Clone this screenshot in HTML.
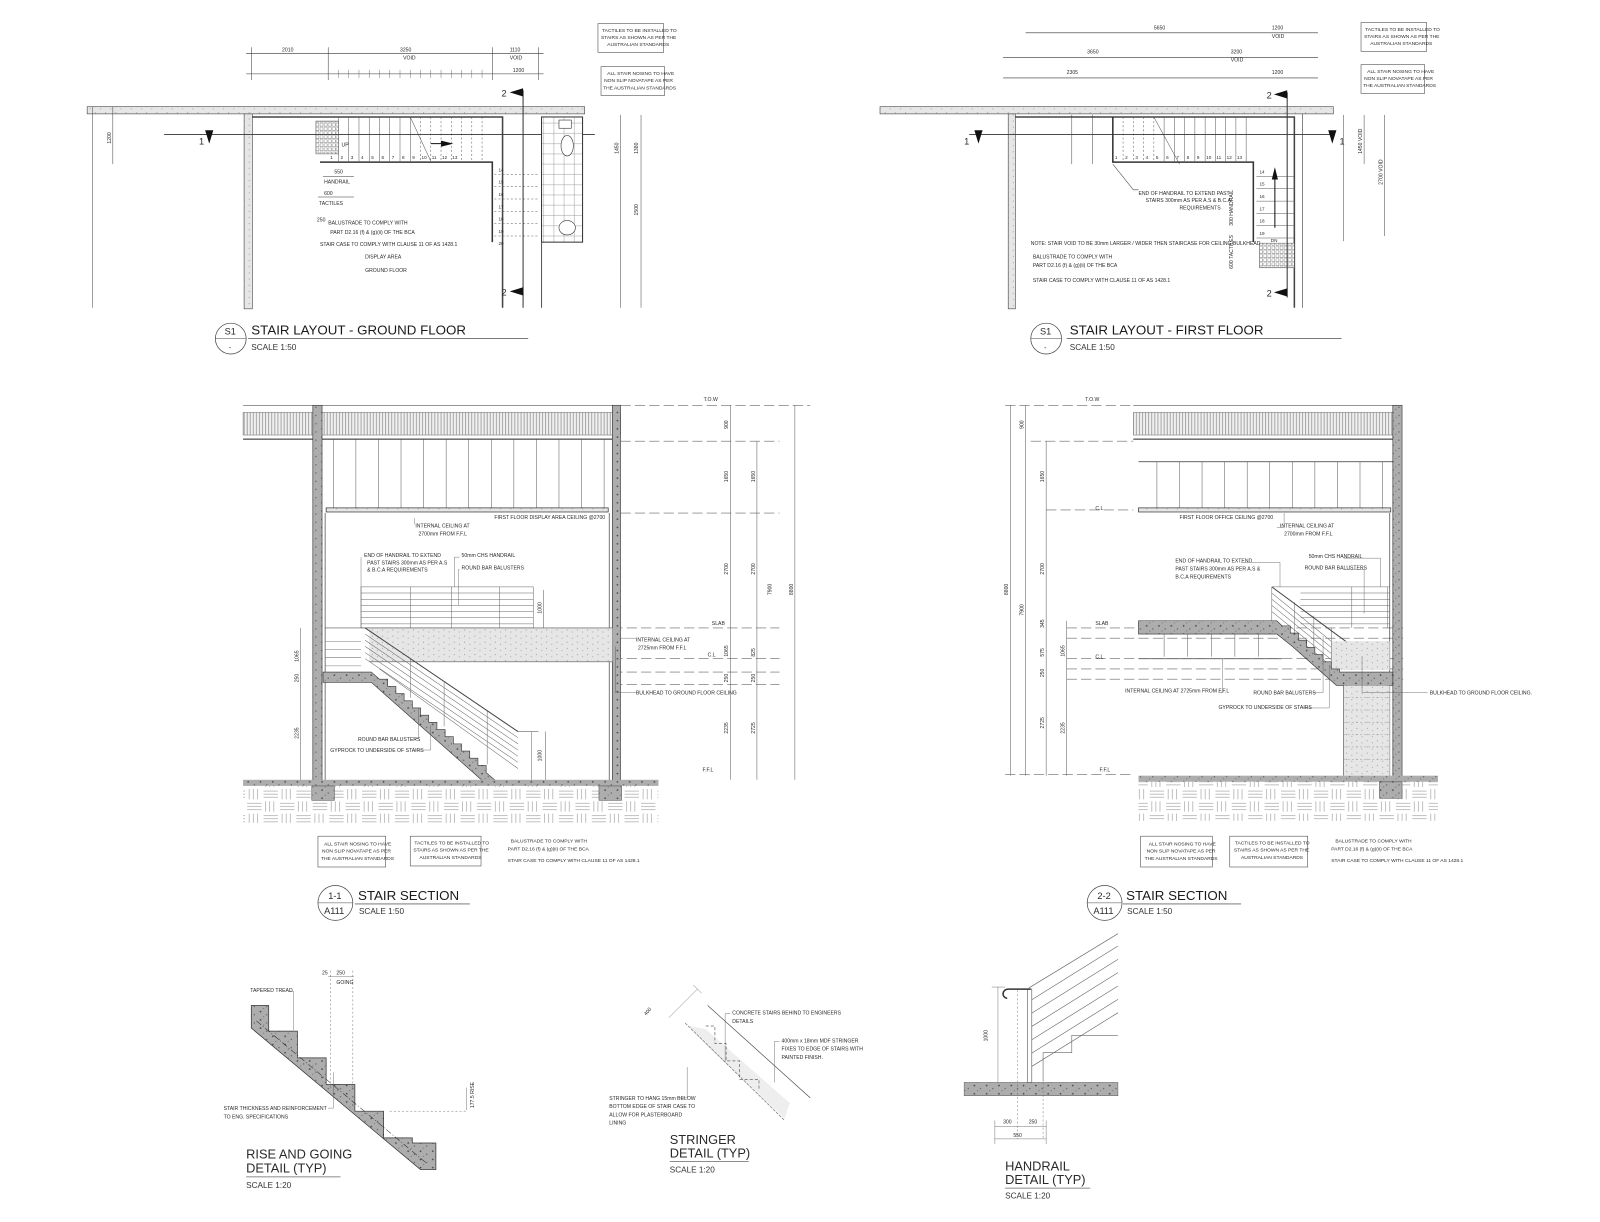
<!DOCTYPE html>
<html><head><meta charset="utf-8"><style>
html,body{margin:0;padding:0;background:#fff;}
svg{display:block;}
text{font-family:"Liberation Sans",sans-serif;fill:#2a2a2a;}
.s{font-size:5px;}
.t{font-size:13px;fill:#1a1a1a;}
.sc{font-size:8px;fill:#333;}
</style></head><body>
<svg width="1600" height="1222" viewBox="0 0 1560 1191" preserveAspectRatio="none" xmlns="http://www.w3.org/2000/svg">
<defs>
<pattern id="conc" width="12" height="8" patternUnits="userSpaceOnUse">
<rect width="12" height="8" fill="#adadad"/><circle cx="2" cy="2" r="0.8" fill="#444"/><circle cx="8" cy="5" r="0.6" fill="#555"/><circle cx="5" cy="7" r="0.5" fill="#666"/>
</pattern>
<pattern id="light" width="10" height="6" patternUnits="userSpaceOnUse">
<rect width="10" height="6" fill="#e6e6e6"/><circle cx="3" cy="2" r="0.5" fill="#888"/><circle cx="8" cy="4" r="0.5" fill="#999"/>
</pattern>
<pattern id="vh" width="3" height="10" patternUnits="userSpaceOnUse">
<rect width="3" height="10" fill="#f0f0f0"/><line x1="1" y1="0" x2="1" y2="10" stroke="#888" stroke-width="0.7"/>
</pattern>
<pattern id="ground" width="32" height="24" patternUnits="userSpaceOnUse">
<rect width="32" height="24" fill="#fff"/>
<g stroke="#999" stroke-width="0.6">
<line x1="1" y1="3" x2="15" y2="3"/><line x1="1" y1="6" x2="15" y2="6"/><line x1="1" y1="9" x2="15" y2="9"/>
<line x1="19" y1="1" x2="19" y2="11"/><line x1="23" y1="1" x2="23" y2="11"/><line x1="27" y1="1" x2="27" y2="11"/>
<line x1="3" y1="13" x2="3" y2="23"/><line x1="7" y1="13" x2="7" y2="23"/><line x1="11" y1="13" x2="11" y2="23"/>
<line x1="17" y1="15" x2="31" y2="15"/><line x1="17" y1="18" x2="31" y2="18"/><line x1="17" y1="21" x2="31" y2="21"/>
</g></pattern>
<pattern id="tact" width="4" height="4" patternUnits="userSpaceOnUse">
<rect width="4" height="4" fill="#fff"/><rect x="0" y="0" width="3" height="3" fill="none" stroke="#666" stroke-width="0.5"/>
</pattern>
<pattern id="tile" width="10" height="10" patternUnits="userSpaceOnUse">
<rect width="10" height="10" fill="#fff" stroke="#888" stroke-width="0.4"/>
</pattern>
</defs>

<!-- ================= GROUND FLOOR PLAN ================= -->
<g stroke="#333" fill="none" stroke-width="0.6">
<line x1="240" y1="52" x2="530" y2="52"/><line x1="240" y1="72" x2="530" y2="72"/>
<g stroke-width="0.5"><line x1="245" y1="46" x2="245" y2="78"/><line x1="320" y1="46" x2="320" y2="78"/><line x1="480" y1="46" x2="480" y2="78"/><line x1="525" y1="46" x2="525" y2="78"/></g>
</g>
<g class="s"><text x="275" y="50" font-size="5">2010</text><text x="390" y="50" font-size="5">3250</text><text x="393" y="58" font-size="5">VOID</text><text x="497" y="50" font-size="5">1110</text><text x="497" y="58" font-size="5">VOID</text><text x="500" y="70" font-size="5">1200</text></g>
<g stroke="#555" stroke-width="0.4"><line x1="320" y1="68" x2="320" y2="76"/>
<line x1="330" y1="68" x2="330" y2="76"/><line x1="340" y1="68" x2="340" y2="76"/><line x1="350" y1="68" x2="350" y2="76"/><line x1="360" y1="68" x2="360" y2="76"/><line x1="370" y1="68" x2="370" y2="76"/><line x1="380" y1="68" x2="380" y2="76"/><line x1="390" y1="68" x2="390" y2="76"/><line x1="400" y1="68" x2="400" y2="76"/><line x1="410" y1="68" x2="410" y2="76"/><line x1="420" y1="68" x2="420" y2="76"/><line x1="430" y1="68" x2="430" y2="76"/><line x1="440" y1="68" x2="440" y2="76"/><line x1="450" y1="68" x2="450" y2="76"/><line x1="460" y1="68" x2="460" y2="76"/><line x1="470" y1="68" x2="470" y2="76"/></g>
<rect x="85" y="104" width="485" height="7" fill="url(#light)" stroke="#444" stroke-width="0.6"/>
<rect x="238" y="111" width="8" height="190" fill="url(#light)" stroke="#444" stroke-width="0.6"/>
<path d="M246 114 H490 V300" fill="none" stroke="#444" stroke-width="1.5"/>
<g stroke="#555" stroke-width="0.5">
<line x1="330" y1="114" x2="330" y2="157"/><line x1="340" y1="114" x2="340" y2="157"/><line x1="350" y1="114" x2="350" y2="157"/><line x1="360" y1="114" x2="360" y2="157"/><line x1="370" y1="114" x2="370" y2="157"/><line x1="380" y1="114" x2="380" y2="157"/><line x1="390" y1="114" x2="390" y2="157"/><line x1="400" y1="114" x2="400" y2="157"/><line x1="410" y1="114" x2="410" y2="157" stroke-dasharray="2 2"/><line x1="420" y1="114" x2="420" y2="157" stroke-dasharray="2 2"/><line x1="430" y1="114" x2="430" y2="157" stroke-dasharray="2 2"/><line x1="440" y1="114" x2="440" y2="157" stroke-dasharray="2 2"/><line x1="450" y1="114" x2="450" y2="157" stroke-dasharray="2 2"/><line x1="460" y1="114" x2="460" y2="157" stroke-dasharray="2 2"/><line x1="470" y1="114" x2="470" y2="157" stroke-dasharray="2 2"/>
<line x1="400" y1="114" x2="420" y2="157"/>
<line x1="482" y1="170" x2="525" y2="170" stroke-dasharray="2 2"/><line x1="482" y1="182" x2="525" y2="182" stroke-dasharray="2 2"/><line x1="482" y1="194" x2="525" y2="194" stroke-dasharray="2 2"/><line x1="482" y1="206" x2="525" y2="206" stroke-dasharray="2 2"/><line x1="482" y1="218" x2="525" y2="218" stroke-dasharray="2 2"/><line x1="482" y1="230" x2="525" y2="230" stroke-dasharray="2 2"/>
</g>
<path d="M312 158 H480 V236" fill="none" stroke="#333" stroke-width="1.5"/>
<rect x="308" y="118" width="22" height="32" fill="url(#tact)" stroke="#555" stroke-width="0.5"/>
<line x1="160" y1="131" x2="580" y2="131" stroke="#333" stroke-width="0.9"/>
<polygon points="200,127 208,127 204,140" fill="#111"/><text x="194" y="141" font-size="9">1</text>
<line x1="510" y1="88" x2="510" y2="300" stroke="#333" stroke-width="1"/>
<polygon points="497,90 510,86 510,94" fill="#111"/><text x="489" y="94" font-size="9">2</text>
<polygon points="497,284 510,280 510,288" fill="#111"/><text x="489" y="288" font-size="9">2</text>
<line x1="420" y1="140" x2="440" y2="140" stroke="#111"/><polygon points="430,137 442,140 430,143" fill="#111"/>
<text x="333" y="143" class="s">UP</text>
<g font-size="4.5"><text x="322" y="155">1</text><text x="332" y="155">2</text><text x="342" y="155">3</text><text x="352" y="155">4</text><text x="362" y="155">5</text><text x="372" y="155">6</text><text x="382" y="155">7</text><text x="392" y="155">8</text><text x="402" y="155">9</text><text x="411" y="155">10</text><text x="421" y="155">11</text><text x="431" y="155">12</text><text x="441" y="155">13</text></g>
<g font-size="4.5"><text x="486" y="167">14</text><text x="486" y="179">15</text><text x="486" y="191">16</text><text x="486" y="203">17</text><text x="486" y="215">18</text><text x="486" y="227">19</text><text x="486" y="239">20</text></g>
<rect x="528" y="114" width="40" height="122" fill="url(#tile)" stroke="#333" stroke-width="1"/>
<rect x="545" y="117" width="12" height="8" fill="#fff" stroke="#333" stroke-width="0.6"/>
<ellipse cx="553" cy="142" rx="6" ry="10" fill="#fff" stroke="#333" stroke-width="0.6"/>
<ellipse cx="553" cy="222" rx="8" ry="7" fill="#fff" stroke="#333" stroke-width="0.6"/>
<line x1="528" y1="236" x2="528" y2="300" stroke="#555"/>
<g stroke="#333" stroke-width="0.5"><line x1="315" y1="172" x2="345" y2="172"/><line x1="310" y1="192" x2="345" y2="192"/></g>
<g font-size="5"><text x="326" y="169">550</text><text x="316" y="179">HANDRAIL</text><text x="316" y="190">600</text><text x="311" y="200">TACTILES</text>
<text x="309" y="216">250</text><text x="320" y="219">BALUSTRADE TO COMPLY WITH</text><text x="322" y="228">PART D2.16 (f) &amp; (g)(ii) OF THE BCA</text><text x="312" y="240">STAIR CASE TO COMPLY WITH CLAUSE 11 OF AS 1428.1</text><text x="356" y="252">DISPLAY AREA</text><text x="356" y="265">GROUND FLOOR</text></g>
<g stroke="#444" stroke-width="0.5"><line x1="90" y1="104" x2="90" y2="300"/><line x1="110" y1="104" x2="110" y2="160"/><line x1="605" y1="112" x2="605" y2="300"/><line x1="625" y1="112" x2="625" y2="300"/></g>
<text x="108" y="140" font-size="5" transform="rotate(-90 108 140)">1200</text>
<text x="603" y="150" font-size="5" transform="rotate(-90 603 150)">1450</text>
<text x="622" y="150" font-size="5" transform="rotate(-90 622 150)">1380</text>
<text x="622" y="210" font-size="5" transform="rotate(-90 622 210)">1500</text>
<rect x="583" y="23" width="64" height="28" fill="#fff" stroke="#555" stroke-width="0.6"/>
<text x="587" y="31" font-size="4.8">TACTILES TO BE INSTALLED TO</text><text x="586" y="38" font-size="4.8">STAIRS AS SHOWN AS PER THE</text><text x="592" y="45" font-size="4.8">AUSTRALIAN STANDARDS</text>
<rect x="586" y="65" width="62" height="28" fill="#fff" stroke="#555" stroke-width="0.6"/>
<text x="592" y="73" font-size="4.8">ALL STAIR NOSING TO HAVE</text><text x="589" y="80" font-size="4.8">NON SLIP NOVATAPE AS PER</text><text x="588" y="87" font-size="4.8">THE AUSTRALIAN STANDARDS</text>
<circle cx="225" cy="330" r="15" fill="#fff" stroke="#444" stroke-width="0.7"/><line x1="210" y1="330" x2="240" y2="330" stroke="#444" stroke-width="0.5"/>
<text x="219" y="326" font-size="9">S1</text><text x="223" y="341" font-size="7">-</text>
<text x="245" y="326" class="t">STAIR LAYOUT - GROUND FLOOR</text>
<line x1="242" y1="330" x2="515" y2="330" stroke="#666" stroke-width="0.8"/>
<text x="245" y="341" class="sc">SCALE 1:50</text>

<!-- ================= FIRST FLOOR PLAN ================= -->
<g stroke="#333" stroke-width="0.6"><line x1="1000" y1="32" x2="1285" y2="32"/><line x1="978" y1="56" x2="1285" y2="56"/><line x1="978" y1="76" x2="1285" y2="76"/></g>
<g font-size="5"><text x="1125" y="29">5650</text><text x="1240" y="29">1200</text><text x="1240" y="37">VOID</text><text x="1060" y="52">3650</text><text x="1200" y="52">3200</text><text x="1200" y="60">VOID</text><text x="1040" y="72">2305</text><text x="1240" y="72">1200</text></g>
<rect x="858" y="104" width="442" height="7" fill="url(#light)" stroke="#444" stroke-width="0.6"/>
<rect x="983" y="111" width="7" height="190" fill="url(#light)" stroke="#444" stroke-width="0.6"/>
<path d="M990 114 H1262 V300" fill="none" stroke="#444" stroke-width="1.5"/>
<line x1="1270" y1="111" x2="1270" y2="300" stroke="#555" stroke-width="0.7"/>
<g stroke="#555" stroke-width="0.5">
<line x1="1095" y1="114" x2="1095" y2="157" stroke-dasharray="2 2"/><line x1="1105" y1="114" x2="1105" y2="157" stroke-dasharray="2 2"/><line x1="1115" y1="114" x2="1115" y2="157" stroke-dasharray="2 2"/><line x1="1125" y1="114" x2="1125" y2="157" stroke-dasharray="2 2"/><line x1="1135" y1="114" x2="1135" y2="157"/><line x1="1145" y1="114" x2="1145" y2="157"/><line x1="1155" y1="114" x2="1155" y2="157"/><line x1="1165" y1="114" x2="1165" y2="157"/><line x1="1175" y1="114" x2="1175" y2="157"/><line x1="1185" y1="114" x2="1185" y2="157"/><line x1="1195" y1="114" x2="1195" y2="157"/><line x1="1205" y1="114" x2="1205" y2="157"/><line x1="1215" y1="114" x2="1215" y2="157"/>
<line x1="1125" y1="114" x2="1150" y2="160"/>
<line x1="1225" y1="172" x2="1262" y2="172"/><line x1="1225" y1="184" x2="1262" y2="184"/><line x1="1225" y1="196" x2="1262" y2="196"/><line x1="1225" y1="208" x2="1262" y2="208"/><line x1="1225" y1="220" x2="1262" y2="220"/><line x1="1225" y1="232" x2="1262" y2="232"/>
</g>
<path d="M1085 114 V158 H1222 V236" fill="none" stroke="#333" stroke-width="1.5"/>
<rect x="1228" y="237" width="34" height="24" fill="url(#tact)" stroke="#555" stroke-width="0.5"/>
<line x1="945" y1="131" x2="1300" y2="131" stroke="#333" stroke-width="0.9"/>
<polygon points="950,127 958,127 954,140" fill="#111"/><text x="940" y="141" font-size="9">1</text>
<polygon points="1295,127 1303,127 1299,140" fill="#111"/><text x="1306" y="141" font-size="9">1</text>
<line x1="1255" y1="90" x2="1255" y2="290" stroke="#333" stroke-width="1"/>
<polygon points="1242,92 1255,88 1255,96" fill="#111"/><text x="1235" y="96" font-size="9">2</text>
<polygon points="1242,285 1255,281 1255,289" fill="#111"/><text x="1235" y="289" font-size="9">2</text>
<line x1="1243" y1="222" x2="1243" y2="165" stroke="#111"/><polygon points="1240,175 1246,175 1243,163" fill="#111"/>
<text x="1239" y="236" font-size="4.5">DN</text>
<g font-size="4.5"><text x="1087" y="155">1</text><text x="1097" y="155">2</text><text x="1107" y="155">3</text><text x="1117" y="155">4</text><text x="1127" y="155">5</text><text x="1137" y="155">6</text><text x="1147" y="155">7</text><text x="1157" y="155">8</text><text x="1167" y="155">9</text><text x="1176" y="155">10</text><text x="1186" y="155">11</text><text x="1196" y="155">12</text><text x="1206" y="155">13</text></g>
<g font-size="4.5"><text x="1228" y="169">14</text><text x="1228" y="181">15</text><text x="1228" y="193">16</text><text x="1228" y="205">17</text><text x="1228" y="217">18</text><text x="1228" y="229">19</text></g>
<g font-size="5"><text x="1110" y="190">END OF HANDRAIL TO EXTEND PAST</text><text x="1117" y="197">STAIRS 300mm AS PER A.S &amp; B.C.A</text><text x="1150" y="204">REQUIREMENTS</text>
<text x="1005" y="239">NOTE: STAIR VOID TO BE 30mm LARGER / WIDER THEN STAIRCASE FOR CEILING BULKHEAD</text>
<text x="1007" y="252">BALUSTRADE TO COMPLY WITH</text><text x="1007" y="260">PART D2.16 (f) &amp; (g)(ii) OF THE BCA</text><text x="1007" y="275">STAIR CASE TO COMPLY WITH CLAUSE 11 OF AS 1428.1</text></g>
<polyline points="1085,160 1105,185 1110,185" fill="none" stroke="#444" stroke-width="0.5"/>
<g stroke="#444" stroke-width="0.5"><line x1="1310" y1="112" x2="1310" y2="235"/><line x1="1330" y1="112" x2="1330" y2="160"/><line x1="1350" y1="112" x2="1350" y2="230"/><line x1="1045" y1="112" x2="1045" y2="160"/><line x1="1065" y1="112" x2="1065" y2="160"/></g>
<text x="1328" y="150" font-size="5" transform="rotate(-90 1328 150)">1450 VOID</text>
<text x="1348" y="180" font-size="5" transform="rotate(-90 1348 180)">2700 VOID</text>
<text x="1202" y="220" font-size="5" transform="rotate(-90 1202 220)">300 HANDRAIL</text>
<text x="1202" y="262" font-size="5" transform="rotate(-90 1202 262)">600 TACTILES</text>
<rect x="1327" y="22" width="64" height="28" fill="#fff" stroke="#555" stroke-width="0.6"/>
<text x="1331" y="30" font-size="4.8">TACTILES TO BE INSTALLED TO</text><text x="1330" y="37" font-size="4.8">STAIRS AS SHOWN AS PER THE</text><text x="1336" y="44" font-size="4.8">AUSTRALIAN STANDARDS</text>
<rect x="1327" y="63" width="62" height="28" fill="#fff" stroke="#555" stroke-width="0.6"/>
<text x="1333" y="71" font-size="4.8">ALL STAIR NOSING TO HAVE</text><text x="1330" y="78" font-size="4.8">NON SLIP NOVATAPE AS PER</text><text x="1329" y="85" font-size="4.8">THE AUSTRALIAN STANDARDS</text>
<circle cx="1020" cy="330" r="15" fill="#fff" stroke="#444" stroke-width="0.7"/><line x1="1005" y1="330" x2="1035" y2="330" stroke="#444" stroke-width="0.5"/>
<text x="1014" y="326" font-size="9">S1</text><text x="1018" y="341" font-size="7">-</text>
<text x="1043" y="326" class="t">STAIR LAYOUT - FIRST FLOOR</text>
<line x1="1040" y1="330" x2="1308" y2="330" stroke="#666" stroke-width="0.8"/>
<text x="1043" y="341" class="sc">SCALE 1:50</text>

<!-- ================= SECTION 1-1 ================= -->
<g stroke="#666" stroke-width="0.6" stroke-dasharray="10 4">
<line x1="605" y1="395" x2="790" y2="395"/><line x1="605" y1="430" x2="760" y2="430"/><line x1="605" y1="500" x2="760" y2="500"/>
<line x1="597" y1="612" x2="760" y2="612"/><line x1="597" y1="642" x2="760" y2="642"/><line x1="597" y1="655" x2="760" y2="655"/><line x1="597" y1="667" x2="760" y2="667"/>
</g>
<line x1="237" y1="395" x2="605" y2="395" stroke="#555" stroke-width="0.6"/>
<rect x="237" y="402" width="368" height="22" fill="url(#vh)" stroke="#666" stroke-width="0.5"/>
<line x1="237" y1="428" x2="605" y2="428" stroke="#222" stroke-width="1"/>
<g stroke="#555" stroke-width="0.5">
<line x1="325" y1="428" x2="325" y2="495"/><line x1="347" y1="428" x2="347" y2="495"/><line x1="369" y1="428" x2="369" y2="495"/><line x1="391" y1="428" x2="391" y2="495"/><line x1="413" y1="428" x2="413" y2="495"/><line x1="435" y1="428" x2="435" y2="495"/><line x1="457" y1="428" x2="457" y2="495"/><line x1="479" y1="428" x2="479" y2="495"/><line x1="501" y1="428" x2="501" y2="495"/><line x1="523" y1="428" x2="523" y2="495"/><line x1="545" y1="428" x2="545" y2="495"/><line x1="567" y1="428" x2="567" y2="495"/><line x1="589" y1="428" x2="589" y2="495"/>
</g>
<rect x="318" y="495" width="275" height="4" fill="url(#light)" stroke="#333" stroke-width="0.7"/>
<rect x="305" y="395" width="9" height="370" fill="url(#conc)" stroke="#333" stroke-width="0.6"/>
<rect x="597" y="395" width="8" height="370" fill="url(#conc)" stroke="#333" stroke-width="0.6"/>
<line x1="317" y1="500" x2="317" y2="765" stroke="#444" stroke-width="0.7"/>
<line x1="594" y1="500" x2="594" y2="765" stroke="#444" stroke-width="0.7"/>
<g stroke="#666" stroke-width="0.5">
<rect x="352" y="572" width="168" height="40" fill="#fff"/>
<line x1="352" y1="578" x2="520" y2="578"/><line x1="352" y1="584" x2="520" y2="584"/><line x1="352" y1="590" x2="520" y2="590"/><line x1="352" y1="596" x2="520" y2="596"/><line x1="352" y1="602" x2="520" y2="602"/><line x1="352" y1="608" x2="520" y2="608"/>
<line x1="400" y1="572" x2="400" y2="612"/><line x1="440" y1="572" x2="440" y2="612"/><line x1="487" y1="572" x2="487" y2="612"/>
</g>
<rect x="360" y="612" width="237" height="33" fill="url(#light)"/>
<line x1="360" y1="645" x2="597" y2="645" stroke="#555" stroke-width="0.6"/>
<line x1="317" y1="612" x2="597" y2="612" stroke="#555" stroke-width="0.6"/>
<g stroke="#777" stroke-width="0.5"><line x1="317" y1="625" x2="352" y2="625"/><line x1="317" y1="633" x2="352" y2="633"/><line x1="317" y1="641" x2="352" y2="641"/><line x1="317" y1="649" x2="352" y2="649"/></g>
<polygon points="315,655 362,655 370,662 378,662 378,669 386,669 386,676 394,676 394,683 402,683 402,690 410,690 410,697 418,697 418,704 426,704 426,711 434,711 434,718 442,718 442,725 450,725 450,732 458,732 458,739 466,739 466,746 474,746 474,753 488,765 475,765 362,665 315,665" fill="url(#conc)" stroke="#333" stroke-width="0.6"/>
<g stroke="#666" stroke-width="0.5" fill="none">
<line x1="356" y1="612" x2="505" y2="713"/><line x1="356" y1="618" x2="505" y2="719"/><line x1="356" y1="624" x2="505" y2="725"/><line x1="356" y1="630" x2="505" y2="731"/><line x1="356" y1="636" x2="505" y2="737"/><line x1="356" y1="642" x2="505" y2="743"/><line x1="370" y1="652" x2="505" y2="749"/>
<line x1="400" y1="642" x2="400" y2="680"/><line x1="433" y1="665" x2="433" y2="708"/><line x1="475" y1="693" x2="475" y2="745"/>
<line x1="505" y1="713" x2="525" y2="713"/><line x1="518" y1="713" x2="518" y2="765"/>
</g>
<line x1="356" y1="612" x2="505" y2="713" stroke="#444" stroke-width="1"/>
<rect x="237" y="760" width="405" height="6" fill="url(#conc)"/>
<rect x="237" y="766" width="405" height="36" fill="url(#ground)"/>
<rect x="304" y="766" width="22" height="14" fill="url(#conc)" stroke="#444" stroke-width="0.5"/>
<rect x="584" y="766" width="22" height="14" fill="url(#conc)" stroke="#444" stroke-width="0.5"/>
<g stroke="#555" stroke-width="0.5">
<line x1="712" y1="395" x2="712" y2="760"/><line x1="738" y1="430" x2="738" y2="760"/><line x1="775" y1="395" x2="775" y2="760"/><line x1="293" y1="612" x2="293" y2="760"/>
<line x1="530" y1="612" x2="530" y2="575"/><line x1="532" y1="713" x2="532" y2="760"/>
</g>
<g font-size="5">
<text x="710" y="418" transform="rotate(-90 710 418)">900</text><text x="710" y="470" transform="rotate(-90 710 470)">1650</text><text x="736" y="470" transform="rotate(-90 736 470)">1650</text>
<text x="710" y="560" transform="rotate(-90 710 560)">2700</text><text x="736" y="560" transform="rotate(-90 736 560)">2700</text><text x="773" y="580" transform="rotate(-90 773 580)">8800</text><text x="752" y="580" transform="rotate(-90 752 580)">7900</text>
<text x="710" y="640" transform="rotate(-90 710 640)">1065</text><text x="736" y="640" transform="rotate(-90 736 640)">825</text><text x="710" y="665" transform="rotate(-90 710 665)">250</text><text x="736" y="665" transform="rotate(-90 736 665)">250</text><text x="710" y="715" transform="rotate(-90 710 715)">2235</text><text x="736" y="715" transform="rotate(-90 736 715)">2725</text>
<text x="291" y="645" transform="rotate(-90 291 645)">1065</text><text x="291" y="665" transform="rotate(-90 291 665)">250</text><text x="291" y="720" transform="rotate(-90 291 720)">2235</text><text x="528" y="598" transform="rotate(-90 528 598)">1000</text><text x="528" y="742" transform="rotate(-90 528 742)">1000</text>
<text x="686" y="391">T.O.W</text><text x="694" y="609">SLAB</text><text x="690" y="640">C.L</text><text x="685" y="752">F.F.L</text>
<text x="482" y="506">FIRST FLOOR DISPLAY AREA CEILING @2700</text>
<text x="405" y="514">INTERNAL CEILING AT</text><text x="408" y="522">2700mm FROM F.F.L</text>
<text x="355" y="543">END OF HANDRAIL TO EXTEND</text><text x="358" y="550">PAST STAIRS 300mm AS PER A.S</text><text x="358" y="557">&amp; B.C.A REQUIREMENTS</text>
<text x="450" y="543">50mm CHS HANDRAIL</text><text x="450" y="555">ROUND BAR BALUSTERS</text>
<text x="620" y="625">INTERNAL CEILING AT</text><text x="622" y="633">2725mm FROM F.F.L</text>
<text x="620" y="677">BULKHEAD TO GROUND FLOOR CEILING</text>
<text x="349" y="722">ROUND BAR BALUSTERS</text><text x="322" y="733">GYPROCK TO UNDERSIDE OF STAIRS</text>
</g>
<g stroke="#555" stroke-width="0.4" fill="none"><polyline points="404,511 404,505"/><polyline points="352,543 352,612"/><polyline points="448,543 443,543 443,572"/><polyline points="448,555 447,555 447,590"/><polyline points="620,622 605,622 605,640"/><polyline points="620,675 600,675 600,630"/><polyline points="404,720 408,720 408,690"/><polyline points="405,731 420,731 420,707"/></g>
<rect x="310" y="815" width="66" height="30" fill="#fff" stroke="#555" stroke-width="0.6"/>
<text x="316" y="824" font-size="4.8">ALL STAIR NOSING TO HAVE</text><text x="314" y="831" font-size="4.8">NON SLIP NOVATAPE AS PER</text><text x="313" y="838" font-size="4.8">THE AUSTRALIAN STANDARDS</text>
<rect x="400" y="815" width="69" height="29" fill="#fff" stroke="#555" stroke-width="0.6"/>
<text x="404" y="823" font-size="4.8">TACTILES TO BE INSTALLED TO</text><text x="403" y="830" font-size="4.8">STAIRS AS SHOWN AS PER THE</text><text x="409" y="837" font-size="4.8">AUSTRALIAN STANDARDS</text>
<text x="498" y="821" font-size="4.8">BALUSTRADE TO COMPLY WITH</text><text x="495" y="829" font-size="4.8">PART D2.16 (f) &amp; (g)(ii) OF THE BCA</text><text x="495" y="840" font-size="4.8">STAIR CASE TO COMPLY WITH CLAUSE 11 OF AS 1428.1</text>
<circle cx="327" cy="880" r="17" fill="#fff" stroke="#444" stroke-width="0.7"/><line x1="310" y1="880" x2="344" y2="880" stroke="#444" stroke-width="0.5"/>
<text x="320" y="876" font-size="9">1-1</text><text x="316" y="891" font-size="9">A111</text>
<text x="349" y="877" class="t">STAIR SECTION</text>
<line x1="346" y1="881" x2="458" y2="881" stroke="#666" stroke-width="0.8"/>
<text x="350" y="891" class="sc">SCALE 1:50</text>

<!-- ================= SECTION 2-2 ================= -->
<g stroke="#666" stroke-width="0.6" stroke-dasharray="10 4">
<line x1="980" y1="395" x2="1105" y2="395"/><line x1="1005" y1="430" x2="1105" y2="430"/><line x1="1020" y1="497" x2="1105" y2="497"/>
<line x1="1040" y1="612" x2="1368" y2="612"/><line x1="1040" y1="622" x2="1368" y2="622"/><line x1="1040" y1="642" x2="1368" y2="642"/><line x1="1040" y1="652" x2="1368" y2="652"/><line x1="1040" y1="662" x2="1368" y2="662"/><line x1="980" y1="755" x2="1105" y2="755"/>
</g>
<line x1="1105" y1="395" x2="1365" y2="395" stroke="#555" stroke-width="0.6"/>
<rect x="1105" y="402" width="253" height="22" fill="url(#vh)" stroke="#666" stroke-width="0.5"/>
<line x1="1105" y1="428" x2="1358" y2="428" stroke="#222" stroke-width="1"/>
<line x1="1110" y1="450" x2="1358" y2="450" stroke="#333" stroke-width="0.7"/>
<g stroke="#555" stroke-width="0.5">
<line x1="1128" y1="450" x2="1128" y2="495"/><line x1="1150" y1="450" x2="1150" y2="495"/><line x1="1172" y1="450" x2="1172" y2="495"/><line x1="1194" y1="450" x2="1194" y2="495"/><line x1="1216" y1="450" x2="1216" y2="495"/><line x1="1238" y1="450" x2="1238" y2="495"/><line x1="1260" y1="450" x2="1260" y2="495"/><line x1="1282" y1="450" x2="1282" y2="495"/><line x1="1304" y1="450" x2="1304" y2="495"/><line x1="1326" y1="450" x2="1326" y2="495"/><line x1="1348" y1="450" x2="1348" y2="495"/>
<line x1="1135" y1="618" x2="1135" y2="640"/><line x1="1158" y1="618" x2="1158" y2="640"/><line x1="1181" y1="618" x2="1181" y2="640"/><line x1="1204" y1="618" x2="1204" y2="640"/><line x1="1227" y1="618" x2="1227" y2="640"/>
</g>
<rect x="1110" y="495" width="246" height="4" fill="url(#light)" stroke="#333" stroke-width="0.7"/>
<rect x="1358" y="395" width="9" height="370" fill="url(#conc)" stroke="#333" stroke-width="0.6"/>
<line x1="1355" y1="500" x2="1355" y2="765" stroke="#444" stroke-width="0.7"/>
<line x1="1110" y1="642" x2="1250" y2="642" stroke="#444" stroke-width="0.7"/>
<rect x="1298" y="625" width="57" height="28" fill="url(#light)"/>
<g stroke="#666" stroke-width="0.5" fill="none">
<line x1="1240" y1="572" x2="1355" y2="572"/><line x1="1268" y1="578" x2="1355" y2="578"/><line x1="1268" y1="584" x2="1355" y2="584"/><line x1="1268" y1="590" x2="1355" y2="590"/><line x1="1268" y1="596" x2="1355" y2="596"/><line x1="1268" y1="602" x2="1355" y2="602"/><line x1="1268" y1="608" x2="1355" y2="608"/>
<line x1="1240" y1="572" x2="1240" y2="605"/><line x1="1318" y1="572" x2="1318" y2="612"/><line x1="1353" y1="572" x2="1353" y2="612"/>
<line x1="1240" y1="578" x2="1298" y2="625"/><line x1="1240" y1="584" x2="1298" y2="631"/><line x1="1240" y1="590" x2="1298" y2="637"/><line x1="1240" y1="596" x2="1298" y2="643"/><line x1="1245" y1="606" x2="1298" y2="649"/>
<line x1="1262" y1="587" x2="1262" y2="622"/><line x1="1281" y1="600" x2="1281" y2="640"/><line x1="1298" y1="612" x2="1298" y2="660"/>
</g>
<line x1="1240" y1="572" x2="1312" y2="625" stroke="#444" stroke-width="1"/>
<polygon points="1110,605 1245,605 1250,610 1258,610 1258,617 1266,617 1266,624 1274,624 1274,631 1282,631 1282,638 1290,638 1290,645 1298,645 1298,652 1306,652 1306,655 1358,655 1358,668 1303,668 1260,630 1245,618 1110,618" fill="url(#conc)" stroke="#333" stroke-width="0.6"/>
<rect x="1310" y="668" width="45" height="88" fill="url(#light)"/>
<g stroke="#888" stroke-width="0.4" stroke-dasharray="2 2"><line x1="1310" y1="680" x2="1355" y2="680"/><line x1="1310" y1="692" x2="1355" y2="692"/><line x1="1310" y1="704" x2="1355" y2="704"/><line x1="1310" y1="716" x2="1355" y2="716"/><line x1="1310" y1="728" x2="1355" y2="728"/><line x1="1310" y1="740" x2="1355" y2="740"/></g>
<line x1="1310" y1="668" x2="1310" y2="756" stroke="#444" stroke-width="0.6"/>
<rect x="1110" y="756" width="292" height="6" fill="url(#conc)"/>
<rect x="1110" y="762" width="292" height="38" fill="url(#ground)"/>
<rect x="1345" y="762" width="22" height="16" fill="url(#conc)" stroke="#444" stroke-width="0.5"/>
<g stroke="#555" stroke-width="0.5"><line x1="985" y1="395" x2="985" y2="756"/><line x1="1000" y1="395" x2="1000" y2="756"/><line x1="1020" y1="430" x2="1020" y2="756"/><line x1="1040" y1="605" x2="1040" y2="756"/></g>
<g font-size="5">
<text x="998" y="418" transform="rotate(-90 998 418)">900</text><text x="1018" y="470" transform="rotate(-90 1018 470)">1650</text><text x="1018" y="560" transform="rotate(-90 1018 560)">2700</text>
<text x="983" y="580" transform="rotate(-90 983 580)">8800</text><text x="998" y="600" transform="rotate(-90 998 600)">7900</text>
<text x="1018" y="612" transform="rotate(-90 1018 612)">345</text><text x="1018" y="640" transform="rotate(-90 1018 640)">575</text><text x="1038" y="640" transform="rotate(-90 1038 640)">1065</text><text x="1018" y="660" transform="rotate(-90 1018 660)">250</text><text x="1018" y="710" transform="rotate(-90 1018 710)">2725</text><text x="1038" y="715" transform="rotate(-90 1038 715)">2235</text>
<text x="1058" y="391">T.O.W</text><text x="1068" y="497">C.L</text><text x="1068" y="609">SLAB</text><text x="1068" y="642">C.L</text><text x="1072" y="752">F.F.L</text>
<text x="1150" y="506">FIRST FLOOR OFFICE CEILING @2700</text>
<text x="1248" y="514">INTERNAL CEILING AT</text><text x="1252" y="522">2700mm FROM F.F.L</text>
<text x="1146" y="548">END OF HANDRAIL TO EXTEND</text><text x="1146" y="556">PAST STAIRS 300mm AS PER A.S &amp;</text><text x="1146" y="564">B.C.A REQUIREMENTS</text>
<text x="1276" y="544">50mm CHS HANDRAIL</text><text x="1272" y="555">ROUND BAR BALUSTERS</text>
<text x="1097" y="675">INTERNAL CEILING AT 2725mm FROM F.F.L</text>
<text x="1222" y="677">ROUND BAR BALUSTERS</text><text x="1188" y="691">GYPROCK TO UNDERSIDE OF STAIRS</text>
<text x="1394" y="677">BULKHEAD TO GROUND FLOOR CEILING.</text>
</g>
<g stroke="#555" stroke-width="0.4" fill="none"><polyline points="1245,514 1252,514 1252,500"/><polyline points="1210,548 1248,548 1248,572"/><polyline points="1310,544 1346,544 1346,572"/><polyline points="1310,555 1330,555 1330,598"/><polyline points="1188,675 1192,675 1192,642"/><polyline points="1280,675 1290,675 1290,620"/><polyline points="1270,690 1296,690 1296,648"/><polyline points="1392,675 1328,675 1328,640"/></g>
<rect x="1112" y="815" width="70" height="30" fill="#fff" stroke="#555" stroke-width="0.6"/>
<text x="1120" y="824" font-size="4.8">ALL STAIR NOSING TO HAVE</text><text x="1118" y="831" font-size="4.8">NON SLIP NOVATAPE AS PER</text><text x="1116" y="838" font-size="4.8">THE AUSTRALIAN STANDARDS</text>
<rect x="1199" y="815" width="76" height="30" fill="#fff" stroke="#555" stroke-width="0.6"/>
<text x="1204" y="823" font-size="4.8">TACTILES TO BE INSTALLED TO</text><text x="1203" y="830" font-size="4.8">STAIRS AS SHOWN AS PER THE</text><text x="1210" y="837" font-size="4.8">AUSTRALIAN STANDARDS</text>
<text x="1302" y="821" font-size="4.8">BALUSTRADE TO COMPLY WITH</text><text x="1298" y="829" font-size="4.8">PART D2.16 (f) &amp; (g)(ii) OF THE BCA</text><text x="1298" y="840" font-size="4.8">STAIR CASE TO COMPLY WITH CLAUSE 11 OF AS 1428.1</text>
<circle cx="1077" cy="880" r="17" fill="#fff" stroke="#444" stroke-width="0.7"/><line x1="1060" y1="880" x2="1094" y2="880" stroke="#444" stroke-width="0.5"/>
<text x="1070" y="876" font-size="9">2-2</text><text x="1066" y="891" font-size="9">A111</text>
<text x="1098" y="877" class="t">STAIR SECTION</text>
<line x1="1095" y1="881" x2="1210" y2="881" stroke="#666" stroke-width="0.8"/>
<text x="1099" y="891" class="sc">SCALE 1:50</text>

<!-- ================= RISE AND GOING ================= -->
<polygon points="245,980 262,980 262,1005 290,1005 290,1031 318,1031 318,1057 346,1057 346,1083 374,1083 374,1109 402,1109 402,1114 425,1114 425,1140 410,1140 245,1002" fill="url(#conc)" stroke="#333" stroke-width="0.7"/>
<line x1="250" y1="995" x2="415" y2="1133" stroke="#222" stroke-width="0.5" stroke-dasharray="6 2 1 2"/>
<g stroke="#555" stroke-width="0.4"><line x1="320" y1="952" x2="345" y2="952"/><line x1="322" y1="946" x2="322" y2="1060" stroke-dasharray="2 2"/><line x1="344" y1="946" x2="344" y2="1060" stroke-dasharray="2 2"/><line x1="455" y1="1060" x2="455" y2="1082"/><line x1="380" y1="1083" x2="455" y2="1083" stroke-dasharray="2 2"/></g>
<g font-size="5"><text x="314" y="950">25</text><text x="328" y="950">250</text><text x="328" y="959">GOING</text><text x="244" y="967">TAPERED TREAD</text><text x="218" y="1082">STAIR THICKNESS AND REINFORCEMENT</text><text x="218" y="1090">TO ENG. SPECIFICATIONS</text>
<text x="462" y="1080" transform="rotate(-90 462 1080)">177.5 RISE</text></g>
<polyline points="282,966 286,966 286,1004" fill="none" stroke="#555" stroke-width="0.4"/>
<polyline points="320,1080 325,1080 325,1045" fill="none" stroke="#555" stroke-width="0.4"/>
<text x="240" y="1129" font-size="12.5" fill="#1a1a1a">RISE AND GOING</text>
<text x="240" y="1143" font-size="12.5" fill="#1a1a1a">DETAIL (TYP)</text>
<line x1="240" y1="1147" x2="332" y2="1147" stroke="#666" stroke-width="0.7"/>
<text x="240" y="1158" class="sc">SCALE 1:20</text>

<!-- ================= STRINGER ================= -->
<polygon points="672,1000 690,1020 765,1090 770,1075 688,1003" fill="#eeeeee"/>
<line x1="668" y1="997" x2="765" y2="1092" stroke="#777" stroke-width="0.7" stroke-dasharray="3 1"/>
<line x1="690" y1="980" x2="790" y2="1070" stroke="#444" stroke-width="0.6"/>
<polyline points="688,1000 697,1000 697,1017 708,1017 708,1034 721,1034 721,1052 740,1052 740,1062" fill="none" stroke="#666" stroke-width="0.7" stroke-dasharray="3 2"/>
<g stroke="#555" stroke-width="0.4"><line x1="652" y1="992" x2="680" y2="964"/><line x1="676" y1="960" x2="684" y2="968"/></g>
<g font-size="5"><text x="630" y="990" transform="rotate(-50 630 990)">400</text>
<text x="714" y="989">CONCRETE STAIRS BEHIND TO ENGINEERS</text><text x="714" y="997">DETAILS</text>
<text x="762" y="1016">400mm x 18mm MDF STRINGER</text><text x="762" y="1024">FIXES TO EDGE OF STAIRS WITH</text><text x="762" y="1032">PAINTED FINISH.</text>
<text x="594" y="1072">STRINGER TO HANG 15mm BELOW</text><text x="594" y="1080">BOTTOM EDGE OF STAIR CASE TO</text><text x="594" y="1088">ALLOW FOR PLASTERBOARD</text><text x="594" y="1096">LINING</text></g>
<g stroke="#555" stroke-width="0.4" fill="none"><polyline points="712,988 707,988 707,1035"/><polyline points="760,1015 755,1015 755,1055"/><polyline points="660,1070 670,1070 670,1040"/></g>
<text x="653" y="1115" font-size="12.5" fill="#1a1a1a">STRINGER</text>
<text x="653" y="1128" font-size="12.5" fill="#1a1a1a">DETAIL (TYP)</text>
<line x1="653" y1="1132" x2="730" y2="1132" stroke="#666" stroke-width="0.7"/>
<text x="653" y="1143" class="sc">SCALE 1:20</text>

<!-- ================= HANDRAIL ================= -->
<g stroke="#666" stroke-width="0.6" fill="none">
<line x1="1003" y1="963" x2="1090" y2="910"/><line x1="1005" y1="975" x2="1090" y2="922"/><line x1="1005" y1="988" x2="1090" y2="935"/><line x1="1005" y1="1001" x2="1090" y2="948"/><line x1="1005" y1="1014" x2="1090" y2="961"/><line x1="1005" y1="1027" x2="1090" y2="974"/><line x1="1005" y1="1040" x2="1090" y2="987"/>
<polyline points="1017,1054 1017,1026 1045,1026 1045,1009 1090,1009"/>
</g>
<rect x="1002" y="964" width="4" height="91" fill="#fff" stroke="#555" stroke-width="0.6"/>
<path d="M1005 964 H983 C977 964 976 972 982 973" fill="none" stroke="#333" stroke-width="1.5"/>
<rect x="940" y="1055" width="150" height="13" fill="url(#conc)" stroke="#444" stroke-width="0.4"/>
<g stroke="#555" stroke-width="0.4"><line x1="973" y1="962" x2="973" y2="1055"/><line x1="967" y1="962" x2="980" y2="962"/>
<line x1="992" y1="965" x2="992" y2="1110" stroke-dasharray="2 2"/><line x1="1017" y1="1055" x2="1017" y2="1110" stroke-dasharray="2 2"/>
<line x1="970" y1="1098" x2="1020" y2="1098"/><line x1="970" y1="1110" x2="1020" y2="1110"/><line x1="970" y1="1092" x2="970" y2="1115"/><line x1="1020" y1="1092" x2="1020" y2="1115"/></g>
<g font-size="5"><text x="963" y="1015" transform="rotate(-90 963 1015)">1000</text><text x="978" y="1095">300</text><text x="1003" y="1095">250</text><text x="988" y="1108">550</text></g>
<text x="980" y="1141" font-size="12.5" fill="#1a1a1a">HANDRAIL</text>
<text x="980" y="1154" font-size="12.5" fill="#1a1a1a">DETAIL (TYP)</text>
<line x1="980" y1="1158" x2="1063" y2="1158" stroke="#666" stroke-width="0.7"/>
<text x="980" y="1168" class="sc">SCALE 1:20</text>
</svg>
</body></html>
